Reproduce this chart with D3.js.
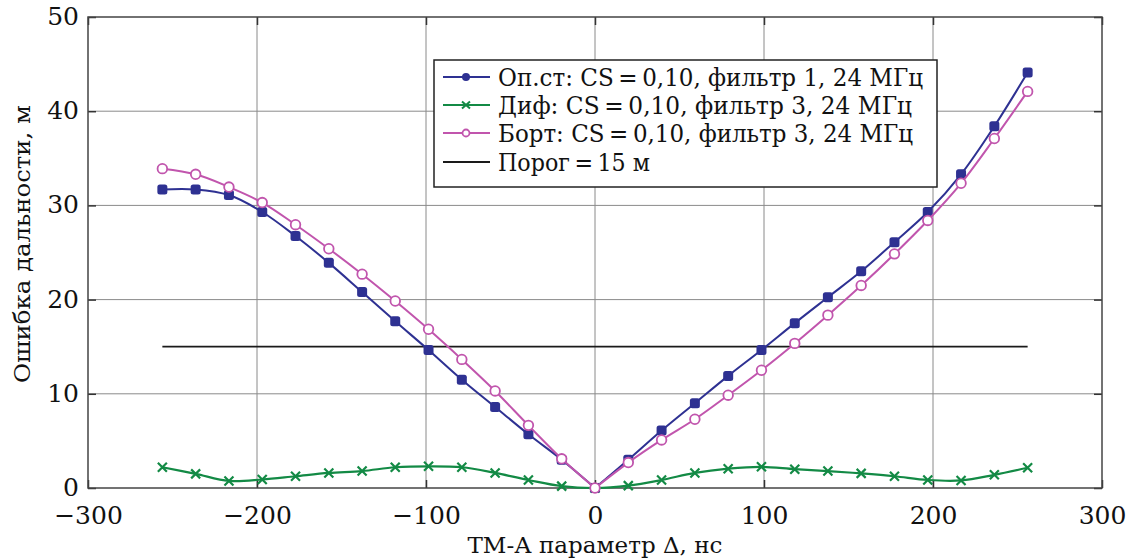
<!DOCTYPE html>
<html><head><meta charset="utf-8">
<script src="https://cdn.jsdelivr.net/npm/d3@7"></script>
<style>
html,body{margin:0;padding:0;background:#fff;}
</style></head>
<body><svg id="c" width="1129" height="560"></svg>
<script>
const deltaNs = [-256,-236.3,-216.6,-196.9,-177.2,-157.5,-137.8,-118.2,-98.5,-78.8,-59.1,-39.4,-19.7,0,19.7,39.4,59.1,78.8,98.5,118.2,137.8,157.5,177.2,196.9,216.6,236.3,256];
const opSt = [31.7,31.7,31.1,29.3,26.75,23.9,20.8,17.7,14.65,11.5,8.6,5.7,3.0,0,3.0,6.1,9.0,11.9,14.65,17.5,20.25,23.0,26.1,29.3,33.3,38.4,44.1];
const dif = [2.2,1.5,0.75,0.9,1.25,1.6,1.8,2.2,2.3,2.2,1.6,0.85,0.2,0,0.25,0.85,1.6,2.05,2.25,2.0,1.8,1.55,1.25,0.85,0.8,1.4,2.15];
const bort = [33.9,33.3,31.95,30.3,27.95,25.4,22.7,19.85,16.85,13.65,10.3,6.65,3.1,0,2.7,5.1,7.3,9.85,12.5,15.35,18.35,21.5,24.85,28.4,32.35,37.1,42.1];
const threshold = 15;
const xTicks = [-300,-200,-100,0,100,200,300];
const yTicks = [0,10,20,30,40,50];
const tickLabelsX = ["\u2212300","\u2212200","\u2212100","0","100","200","300"];
const legendLabels = ["Оп.ст: CS\u2009=\u20090,10, фильтр 1, 24 МГц","Диф: CS\u2009=\u20090,10, фильтр 3, 24 МГц","Борт: CS\u2009=\u20090,10, фильтр 3, 24 МГц","Порог\u2009=\u200915 м"];
const xTitle = "ТМ-А параметр Δ, нс";
const yTitle = "Ошибка дальности, м";

const FONT = '"DejaVu Serif", serif';
const C = {blue:"#2e3192", green:"#138a45", pink:"#c155ad", black:"#1a1a1a"};
const L=88, R=1102, T=17, B=488;
const svg = d3.select("#c");
const x = d3.scaleLinear().domain([-300,300]).range([L,R]);
const y = d3.scaleLinear().domain([0,50]).range([B,T]);

// grid
const g = svg.append("g");
g.selectAll("line.gx").data(xTicks.slice(1,-1)).join("line")
 .attr("x1",d=>x(d)).attr("x2",d=>x(d)).attr("y1",T).attr("y2",B)
 .attr("stroke","#8a8a8a").attr("stroke-width",1);
g.selectAll("line.gy").data(yTicks.slice(1,-1)).join("line")
 .attr("y1",d=>y(d)).attr("y2",d=>y(d)).attr("x1",L).attr("x2",R)
 .attr("stroke","#8a8a8a").attr("stroke-width",1);

// axes with inward ticks
const ax = svg.append("g");
const axB = ax.append("g").attr("transform",`translate(0,${B})`)
 .call(d3.axisBottom(x).tickValues(xTicks).tickSize(-8).tickPadding(18).tickFormat((d,i)=>tickLabelsX[i]));
ax.append("g").attr("transform",`translate(0,${T})`)
 .call(d3.axisTop(x).tickValues(xTicks).tickSize(-8).tickFormat(""));
const axL = ax.append("g").attr("transform",`translate(${L},0)`)
 .call(d3.axisLeft(y).tickValues(yTicks).tickSize(-8).tickPadding(9));
ax.append("g").attr("transform",`translate(${R},0)`)
 .call(d3.axisRight(y).tickValues(yTicks).tickSize(-8).tickFormat(""));
ax.selectAll(".domain").remove();
ax.selectAll("g").attr("font-family",FONT);
ax.selectAll(".tick line").attr("stroke","#333").attr("stroke-width",1.5);
ax.selectAll(".tick text").attr("font-size",25).attr("fill","#111").attr("font-family",FONT);
axB.selectAll(".tick text").attr("dy","0.71em");
axL.selectAll(".tick text").attr("dy","0.3em");
// frame
svg.append("rect").attr("x",L).attr("y",T).attr("width",R-L).attr("height",B-T)
 .attr("fill","none").attr("stroke","#444").attr("stroke-width",1.5);

// threshold
svg.append("line").attr("x1",x(deltaNs[0])).attr("x2",x(deltaNs[deltaNs.length-1]))
 .attr("y1",y(threshold)).attr("y2",y(threshold)).attr("stroke",C.black).attr("stroke-width",1.8);

const mk = vals => deltaNs.map((d,i)=>({x:d,y:vals[i]}));
const line = d3.line().x(d=>x(d.x)).y(d=>y(d.y)).curve(d3.curveCatmullRom.alpha(0.5));
function drawSplit(vals,color){
  const pts = mk(vals);
  [pts.filter(p=>p.x<=0), pts.filter(p=>p.x>=0)].forEach(seg=>{
    svg.append("path").attr("d",line(seg)).attr("fill","none").attr("stroke",color).attr("stroke-width",2);
  });
}
// green
svg.append("path").attr("d",line(mk(dif))).attr("fill","none").attr("stroke",C.green).attr("stroke-width",2.2);
svg.selectAll("path.xm").data(mk(dif)).join("path")
 .attr("d",d=>{const cx=x(d.x),cy=y(d.y),s=4.5;return `M${cx-s},${cy-s}L${cx+s},${cy+s}M${cx-s},${cy+s}L${cx+s},${cy-s}`;})
 .attr("stroke",C.green).attr("stroke-width",2.2);
// blue
drawSplit(opSt,C.blue);
svg.selectAll("rect.bm").data(mk(opSt)).join("rect")
 .attr("x",d=>x(d.x)-5).attr("y",d=>y(d.y)-5).attr("width",10).attr("height",10).attr("rx",2.5)
 .attr("fill",C.blue);
// pink
drawSplit(bort,C.pink);
svg.selectAll("circle.pm").data(mk(bort)).join("circle")
 .attr("cx",d=>x(d.x)).attr("cy",d=>y(d.y)).attr("r",4.8)
 .attr("fill","#fff").attr("stroke",C.pink).attr("stroke-width",1.8);

// legend
const lg = svg.append("g");
lg.append("rect").attr("x",434).attr("y",60).attr("width",503).attr("height",127)
 .attr("fill","#fff").attr("stroke","#222").attr("stroke-width",1.5);
const rowsY = [77,105,133,162];
const rowsW = [425,414,415,152];
const lcol = [C.blue,C.green,C.pink,C.black];
legendLabels.forEach((t,i)=>{
  const yy = rowsY[i];
  lg.append("line").attr("x1",443).attr("x2",490).attr("y1",yy).attr("y2",yy).attr("stroke",lcol[i]).attr("stroke-width",2);
  if(i===0) lg.append("circle").attr("cx",466).attr("cy",yy).attr("r",4).attr("fill",C.blue);
  if(i===1) lg.append("path").attr("d",`M462,${yy-3.5}L470,${yy+3.5}M462,${yy+3.5}L470,${yy-3.5}`).attr("stroke",C.green).attr("stroke-width",2);
  if(i===2) lg.append("circle").attr("cx",466).attr("cy",yy).attr("r",3.5).attr("fill","#fff").attr("stroke",C.pink).attr("stroke-width",1.8);
  lg.append("text").attr("x",498).attr("y",yy).attr("dy","0.36em").attr("font-size",24)
    .attr("font-family",FONT).attr("fill","#111")
    .attr("textLength",rowsW[i]).attr("lengthAdjust","spacingAndGlyphs").text(t);
});

// titles
svg.append("text").attr("x",595).attr("y",553).attr("text-anchor","middle").attr("font-size",23)
 .attr("font-family",FONT).attr("fill","#111").attr("textLength",255).attr("lengthAdjust","spacingAndGlyphs").text(xTitle);
svg.append("text").attr("transform","translate(30,244) rotate(-90)").attr("text-anchor","middle").attr("font-size",23)
 .attr("font-family",FONT).attr("fill","#111").attr("textLength",278).attr("lengthAdjust","spacingAndGlyphs").text(yTitle);
</script></body></html>
